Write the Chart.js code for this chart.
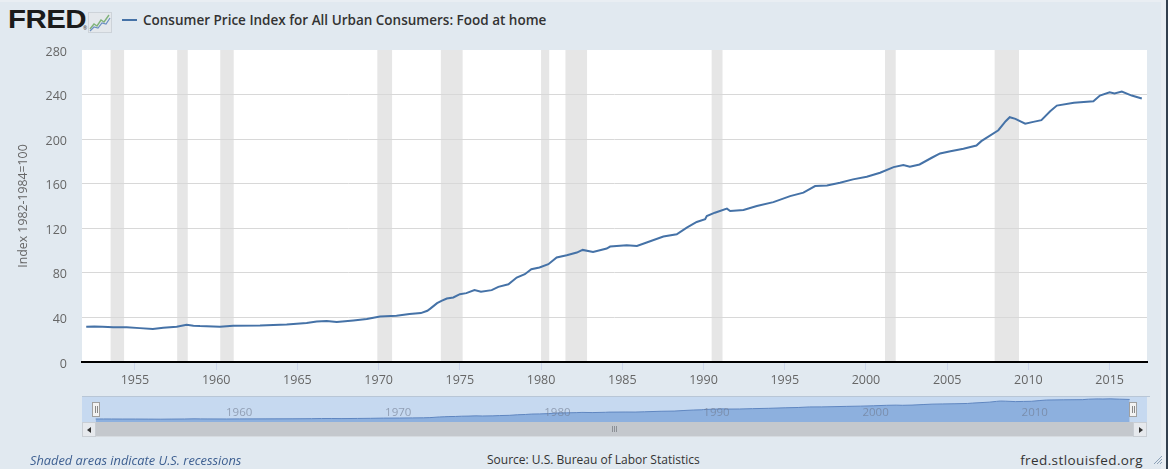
<!DOCTYPE html>
<html><head><meta charset="utf-8">
<script src="https://cdn.jsdelivr.net/npm/chart.js@4.4.1/dist/chart.umd.min.js"></script>
<style>
html,body{margin:0;padding:0;}
body{width:1168px;height:469px;background:#e1e9f0;position:relative;overflow:hidden;font-family:"Open Sans",sans-serif;}
.abs{position:absolute;}
#main{left:0;top:0;width:1168px;height:395px;}
#nav{left:82px;top:397px;width:1065px;height:25px;background:#c6d9f0;}
#navtop{left:82px;top:396px;width:1068px;height:1px;background:#b8c6d6;}
.handle{width:6px;height:13px;top:402px;background:#f2f2f2;border:1px solid #a0a0a0;}
.handle:before,.handle:after{content:"";position:absolute;top:3px;width:1px;height:7px;background:#888;}
.handle:before{left:2px;}.handle:after{left:4px;}
#scroll{left:82px;top:422px;width:1065px;height:14px;background:#c4c8cd;border-bottom:1px solid #d6dbe0;}
.btn{top:422px;width:12px;height:13px;background:#e6e9ed;border:1px solid #c9ced4;}
.tri{position:absolute;top:4px;width:0;height:0;border-top:3px solid transparent;border-bottom:3px solid transparent;}
.grip{top:426px;width:1px;height:6px;background:#8c9096;}
.foot{top:451px;font-size:12px;line-height:18px;white-space:nowrap;}
</style></head>
<body>
<div class="abs" style="left:0;top:0;width:1168px;height:2px;background:#e9eef3;"></div>
<div class="abs" style="left:1161px;top:0;width:5px;height:469px;background:#e8edf2;"></div>
<div class="abs" style="left:1166px;top:0;width:2px;height:469px;background:#33404e;"></div>

<div class="abs" style="left:8px;top:3px;font-family:'Liberation Sans',Arial,sans-serif;font-weight:bold;font-size:25px;line-height:32px;color:#1b1b1b;letter-spacing:-0.5px;transform:scaleX(1.18);transform-origin:left top;">FRED</div>
<div class="abs" style="left:83px;top:25px;font-size:5px;color:#333;">®</div>
<svg class="abs" style="left:88px;top:12px;" width="24" height="21" viewBox="0 0 24 21">
  <rect x="0.5" y="0.5" width="23" height="20" fill="#e4e8ec" stroke="#cdd3d9"/>
  <polyline points="2,17 6,12 9,14 13,8 16,10 21,3" fill="none" stroke="#7fb27a" stroke-width="1.4"/>
  <polyline points="2,19 6,15 10,16 14,11 18,12 22,6" fill="none" stroke="#6b8fc2" stroke-width="1.2"/>
</svg>
<div class="abs" style="left:122px;top:19px;width:15px;height:2px;background:#4572a7;"></div>
<div class="abs" style="left:143px;top:11px;font-size:13.5px;font-weight:600;line-height:18px;color:#333;white-space:nowrap;">Consumer Price Index for All Urban Consumers: Food at home</div>

<div id="main" class="abs"><canvas id="mainCanvas"></canvas></div>
<div id="navtop" class="abs"></div>
<div id="nav" class="abs"><canvas id="navCanvas"></canvas></div>
<div class="abs handle" style="left:92px;"></div>
<div class="abs handle" style="left:1129px;"></div>
<div id="scroll" class="abs"></div>
<div class="abs btn" style="left:82px;"><div class="tri" style="left:4px;border-right:4px solid #333;"></div></div>
<div class="abs btn" style="left:1133px;"><div class="tri" style="left:5px;border-left:4px solid #333;"></div></div>
<div class="abs grip" style="left:612px;"></div>
<div class="abs grip" style="left:614px;"></div>
<div class="abs grip" style="left:616px;"></div>

<div class="abs foot" style="left:30px;font-style:italic;color:#3d5f91;font-size:12.8px;">Shaded areas indicate U.S. recessions</div>
<div class="abs foot" style="left:487px;color:#333;">Source: U.S. Bureau of Labor Statistics</div>
<div class="abs foot" style="right:25px;color:#333;font-size:13.5px;letter-spacing:0.4px;">fred.stlouisfed.org</div>
<svg class="abs" style="left:1153px;top:455px;" width="10" height="10" viewBox="0 0 10 10">
  <line x1="9" y1="1" x2="1" y2="9" stroke="#8da2b8" stroke-width="1"/>
  <line x1="9" y1="4" x2="4" y2="9" stroke="#8da2b8" stroke-width="1"/>
  <line x1="9" y1="7" x2="7" y2="9" stroke="#8da2b8" stroke-width="1"/>
</svg>

<script>
// ---- data ----
const years = [1952.0,1952.5,1953.0,1953.66,1954.49,1955.3,1956.1,1956.74,1957.57,1958.18,1958.6,1959.0,1960.23,1961.05,1962.7,1964.34,1965.57,1966.19,1966.8,1967.42,1968.45,1969.27,1970.09,1971.1,1971.9,1972.6,1973.0,1973.2,1973.6,1973.9,1974.2,1974.6,1975.0,1975.4,1975.9,1976.3,1976.96,1977.37,1977.99,1978.5,1979.0,1979.4,1979.9,1980.45,1980.96,1981.58,1982.2,1982.56,1983.2,1984.04,1984.25,1985.27,1985.9,1986.5,1987.53,1988.35,1988.97,1989.58,1990.1,1990.2,1990.7,1991.44,1991.64,1992.46,1993.28,1994.3,1995.33,1996.15,1996.87,1997.6,1998.4,1999.2,2000.05,2000.87,2001.7,2002.3,2002.7,2003.3,2004.05,2004.56,2005.2,2006.0,2006.8,2007.1,2008.15,2008.6,2008.85,2009.2,2009.8,2010.3,2010.8,2011.34,2011.75,2012.8,2014.0,2014.4,2015.0,2015.3,2015.75,2016.36,2016.98];
const cpi = [31.6,31.8,31.6,31.1,31.1,30.4,29.6,30.7,31.6,33.4,32.6,32.2,31.6,32.5,32.8,33.7,34.9,36.4,36.7,35.8,37.3,38.5,40.9,41.5,43.0,43.9,46.0,48.1,52.8,55.0,57.0,57.9,60.9,61.8,64.5,63.0,64.5,67.4,69.8,75.8,78.8,83.3,84.8,87.8,93.8,95.8,98.2,100.6,98.8,101.8,103.6,104.8,104.2,107.2,112.6,114.6,120.6,125.7,128.1,131.0,134.0,137.6,135.5,136.4,140.0,143.5,148.9,152.0,157.9,158.5,160.9,163.9,166.3,169.9,174.9,176.7,175.2,177.3,183.3,187.2,189.2,191.4,194.3,198.2,208.0,216.1,219.7,218.2,213.8,215.5,217.0,225.0,230.1,232.6,234.0,239.1,242.1,240.9,242.7,239.1,236.4];
const recessionStarts = [1953.5,1957.6,1960.25,1969.92,1973.83,1980.0,1981.5,1990.5,2001.17,2007.92];
const recessionEnds   = [1954.33,1958.25,1961.08,1970.83,1975.17,1980.5,1982.83,1991.17,2001.83,2009.42];
const xTickYears = [1955,1960,1965,1970,1975,1980,1985,1990,1995,2000,2005,2010,2015];
const yTickValues = [0,40,80,120,160,200,240,280];
const navTickYears = [1960,1970,1980,1990,2000,2010];
const yTitle = 'Index 1982-1984=100';

const points = years.map((x,i)=>({x:x, y:cpi[i]}));
const FONT = "'Open Sans', sans-serif";

const bgPlugin = {
  id:'bg',
  beforeDraw(chart){
    const {ctx, chartArea:a, scales:{x}} = chart;
    ctx.save();
    ctx.fillStyle = '#ffffff';
    ctx.fillRect(a.left, a.top, a.right-a.left, a.bottom-a.top);
    ctx.fillStyle = '#e6e6e6';
    recessionStarts.forEach((s,i)=>{
      const x0 = x.getPixelForValue(s), x1 = x.getPixelForValue(recessionEnds[i]);
      ctx.fillRect(x0, a.top, x1-x0, a.bottom-a.top);
    });
    ctx.restore();
  },
  afterDraw(chart){
    const {ctx, chartArea:a} = chart;
    ctx.save();
    ctx.translate(23, (a.top+a.bottom)/2);
    ctx.rotate(-Math.PI/2);
    ctx.fillStyle = '#666';
    ctx.font = "12.3px " + FONT;
    ctx.textAlign = 'center';
    ctx.textBaseline = 'middle';
    ctx.fillText(yTitle, 0, 0);
    ctx.restore();
  }
};

new Chart(document.getElementById('mainCanvas'), {
  type:'line',
  data:{datasets:[{data:points, borderColor:'#4572a7', borderWidth:2, pointRadius:0, tension:0, fill:false}]},
  options:{
    responsive:true, maintainAspectRatio:false, animation:false, events:[],
    layout:{padding:{left:0,right:21,top:50,bottom:0}},
    plugins:{legend:{display:false}, tooltip:{enabled:false}},
    scales:{
      x:{type:'linear', min:1951.74, max:2017.3,
        afterFit(s){ s.height = 33; },
        afterBuildTicks(s){ s.ticks = xTickYears.map(v=>({value:v})); },
        grid:{drawOnChartArea:false, drawTicks:true, tickLength:8, color:'#ccd6eb'},
        border:{display:true, color:'#000', width:2},
        ticks:{padding:3, color:'#666', font:{family:FONT, size:12.5}, maxRotation:0, autoSkip:false, callback:v=>String(v)}
      },
      y:{min:0, max:280,
        afterFit(s){ s.width = 82; },
        afterBuildTicks(s){ s.ticks = yTickValues.map(v=>({value:v})); },
        grid:{drawTicks:false, lineWidth:1, color:c=> (c.tick && (c.tick.value===0 || c.tick.value===280)) ? 'rgba(0,0,0,0)' : '#d8d8d8'},
        border:{display:false},
        ticks:{padding:15, color:'#666', font:{family:FONT, size:12.5}, labelOffset:2, callback:v=>String(v)}
      }
    }
  },
  plugins:[bgPlugin]
});

const navLabels = {
  id:'navLabels',
  afterDatasetsDraw(chart){
    const {ctx, scales:{x}} = chart;
    ctx.save();
    ctx.fillStyle = 'rgba(110,120,140,0.6)';
    ctx.font = "11.5px " + FONT;
    ctx.textAlign = 'left';
    ctx.textBaseline = 'middle';
    navTickYears.forEach(v=> ctx.fillText(String(v), x.getPixelForValue(v)+3, 16));
    ctx.restore();
  }
};

new Chart(document.getElementById('navCanvas'), {
  type:'line',
  data:{datasets:[{data:points, borderColor:'#5f86c0', borderWidth:1, backgroundColor:'#8db0de', fill:'origin', pointRadius:0, tension:0}]},
  options:{
    responsive:true, maintainAspectRatio:false, animation:false, events:[],
    layout:{padding:0},
    plugins:{legend:{display:false}, tooltip:{enabled:false}},
    scales:{
      x:{type:'linear', display:false, min:1951.14, max:2018.07},
      y:{display:false, min:0, max:262}
    }
  },
  plugins:[navLabels]
});
</script>
</body></html>
